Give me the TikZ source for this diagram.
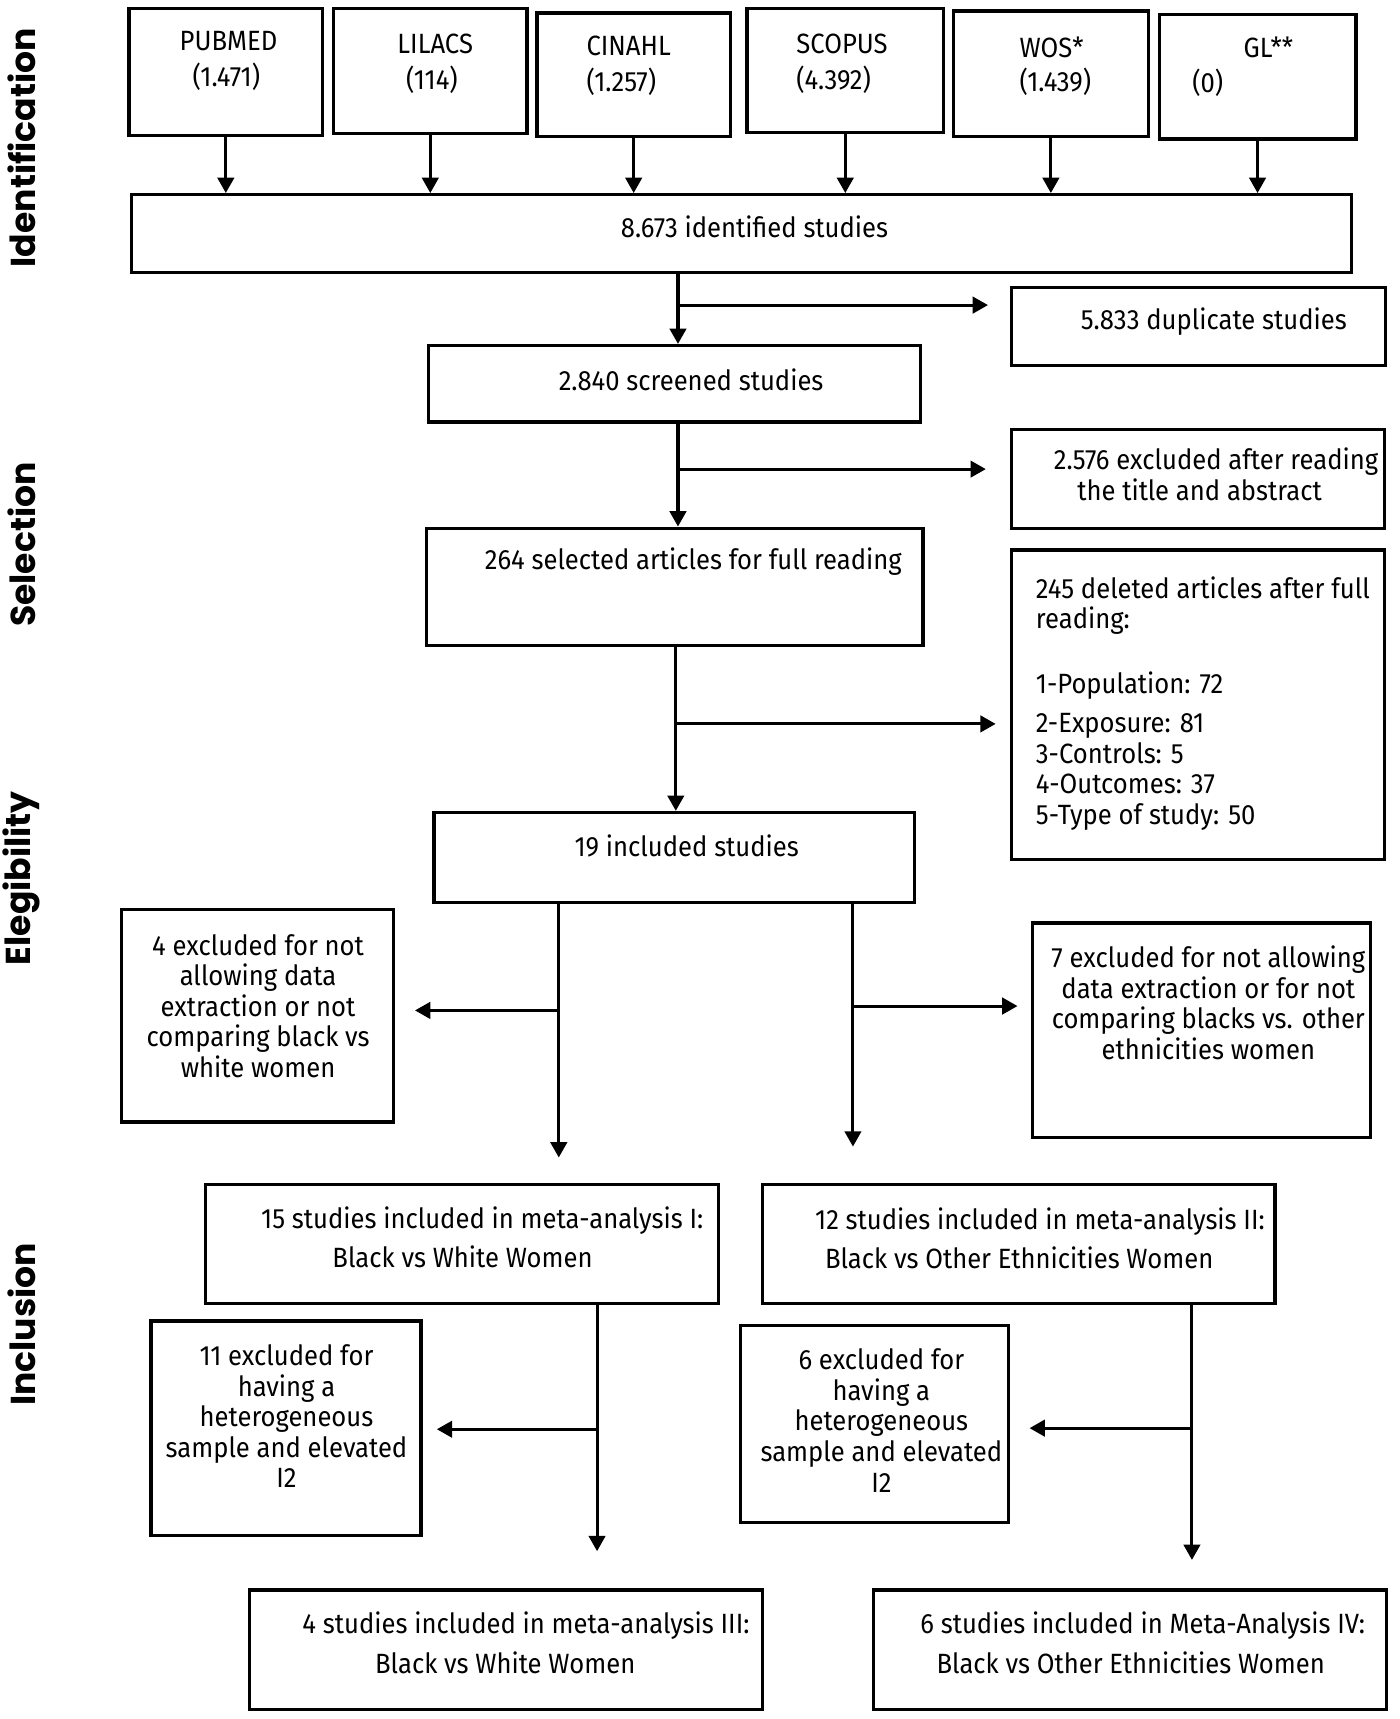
\documentclass[tikz,border=0pt]{standalone}
\usepackage{fontspec}
\setmainfont[FakeStretch=0.92]{Fira Sans}
\newfontfamily\sidefont{Poppins}
\usetikzlibrary{arrows.meta}
\tikzset{
  box/.style={draw, line width=1.7pt, inner sep=0pt, rectangle},
  txt/.style={inner sep=0pt, font=\fontsize{14.5}{15.9}\selectfont},
  side/.style={inner sep=0pt, rotate=90, font=\sidefont\bfseries\fontsize{18}{20}\selectfont},
  arr/.style={line width=1.6pt, -{Triangle[length=0.28cm, width=0.3cm]}}
}
% box from its corners, in pixels of the page
\newcommand{\pbox}[5]{\node[box, minimum width={(#4-#2)*0.02cm}, minimum height={(#5-#3)*0.02cm}] (#1) at ({(#2+#4)/2},{(#3+#5)/2}) {};}
\begin{document}
\begin{tikzpicture}[x=0.02cm, y=-0.02cm]
\useasboundingbox (0,0) rectangle (1280,1572);
% phases
\node[side] (ph1) at (20,135) {Identification};
\node[side] (ph2) at (20,498) {Selection};
\node[side] (ph3) at (20,803) {Elegibility};
\node[side] (ph4) at (20,1211) {Inclusion};
% sources
\pbox{pubmed}{118}{8}{295}{124}
\pbox{lilacs}{305}{8}{482}{122}
\pbox{cinahl}{491}{12}{668}{125}
\pbox{scopus}{683}{8}{863}{121}
\pbox{wos}{872}{10}{1050}{125}
\pbox{gl}{1060}{13}{1240}{127}
\node[txt] (pubmedA) at (209,38) {PUBMED};
\node[txt] (pubmedB) at (207,70) {(1.471)};
\node[txt] (lilacsA) at (398,40) {LILACS};
\node[txt] (lilacsB) at (395,73) {(114)};
\node[txt, anchor=west] (cinahlA) at (536,42) {CINAHL};
\node[txt, anchor=west] (cinahlB) at (536,75) {(1.257)};
\node[txt, anchor=west] (scopusA) at (728,40) {SCOPUS};
\node[txt, anchor=west] (scopusB) at (728,73) {(4.392)};
\node[txt, anchor=west] (wosA) at (932,43) {WOS*};
\node[txt, anchor=west] (wosB) at (932,75) {(1.439)};
\node[txt] (glA) at (1160,43) {GL**};
\node[txt, anchor=west] (glB) at (1090,76) {(0)};
% flow boxes
\pbox{ident}{120}{178}{1236}{249}
\pbox{dup}{925}{263}{1267}{334}
\pbox{screen}{392}{316}{842}{386}
\pbox{excl}{925}{393}{1266}{483}
\pbox{sel}{390}{483}{844}{590}
\pbox{del}{925}{503}{1266}{786}
\pbox{incl}{397}{743}{836}{825}
\pbox{exL}{111}{832}{360}{1026}
\pbox{exR}{944}{844}{1253}{1040}
\pbox{metaI}{188}{1083}{657}{1192}
\pbox{metaII}{697}{1083}{1166}{1192}
\pbox{hetL}{138}{1208}{385}{1404}
\pbox{hetR}{677}{1212}{922}{1392}
\pbox{metaIII}{228}{1454}{697}{1563}
\pbox{metaIV}{799}{1454}{1268}{1563}
% texts
\node[txt] (identT) at (690,207) {8.673 identified studies};
\node[txt] (dupT) at (1110,294) {5.833 duplicate studies};
\node[txt] (screenT) at (632,347) {2.840 screened studies};
\node[txt] (exclA) at (1112,422) {2.576 excluded after reading};
\node[txt] (exclB) at (1097,448) {the title and abstract};
\node[txt] (selT) at (634,514) {264 selected articles for full reading};
\node[txt, anchor=north west, align=left] (delT) at (947,527) {245 deleted articles after full\\reading:\\[17.6pt]
  1-Population: 72\\[4.5pt]2-Exposure: 81\\3-Controls: 5\\4-Outcomes: 37\\5-Type of study: 50};
\node[txt] (inclT) at (628,774) {19 included studies};
\node[txt, align=center] (exLT) at (236,920) {4 excluded for not\\allowing data\\extraction or not\\comparing black vs\\white women};
\node[txt, align=center] (exRT) at (1105,917) {7 excluded for not allowing\\data extraction or for not\\comparing blacks vs. other\\ethnicities women};
\node[txt] (metaIA) at (441,1116) {15 studies included in meta-analysis I:};
\node[txt] (metaIB) at (423,1149) {Black vs White Women};
\node[txt] (metaIIA) at (951,1117) {12 studies included in meta-analysis II:};
\node[txt] (metaIIB) at (932,1150) {Black vs Other Ethnicities Women};
\node[txt, align=center] (hetLT) at (262,1295) {11 excluded for\\having a\\heterogeneous\\sample and elevated\\I2};
\node[txt, align=center] (hetRT) at (806,1299) {6 excluded for\\having a\\heterogeneous\\sample and elevated\\I2};
\node[txt] (metaIIIA) at (481,1487) {4 studies included in meta-analysis III:};
\node[txt] (metaIIIB) at (462,1521) {Black vs White Women};
\node[txt] (metaIVA) at (1045,1487) {6 studies included in Meta-Analysis IV:};
\node[txt] (metaIVB) at (1034,1521) {Black vs Other Ethnicities Women};
% arrows into the pool
\draw[arr] (pubmed.south) -- (pubmed.south |- ident.north);
\draw[arr] (lilacs.south) -- (lilacs.south |- ident.north);
\draw[arr] (cinahl.south) -- (cinahl.south |- ident.north);
\draw[arr] (scopus.south) -- (scopus.south |- ident.north);
\draw[arr] (wos.south) -- (wos.south |- ident.north);
\draw[arr] (gl.south) -- (gl.south |- ident.north);
% junctions
\coordinate (j1) at (620,279);
\coordinate (j2) at (620,429);
\coordinate (j3) at (618,662);
\coordinate (jL) at (511,924);
\coordinate (jR) at (780,920);
\coordinate (jL2) at (546,1307);
\coordinate (jR2) at (1090,1306);
\draw[arr] (ident.south -| j1) -- (screen.north -| j1);
\draw[arr, shorten >=0.4cm] (j1) -- (j1 -| dup.west);
\draw[arr] (screen.south -| j2) -- (sel.north -| j2);
\draw[arr, shorten >=0.44cm] (j2) -- (j2 -| excl.west);
\draw[arr] (sel.south -| j3) -- (incl.north -| j3);
\draw[arr, shorten >=0.26cm] (j3) -- (j3 -| del.west);
\draw[arr, shorten >=0.46cm] (incl.south -| jL) -- (metaI.north -| jL);
\draw[arr, shorten >=0.36cm] (jL) -- (jL -| exL.east);
\draw[arr, shorten >=0.66cm] (incl.south -| jR) -- (metaII.north -| jR);
\draw[arr, shorten >=0.24cm] (jR) -- (jR -| exR.west);
\draw[arr, shorten >=0.68cm] (metaI.south -| jL2) -- (metaIII.north -| jL2);
\draw[arr, shorten >=0.26cm] (jL2) -- (jL2 -| hetL.east);
\draw[arr, shorten >=0.52cm] (metaII.south -| jR2) -- (metaIV.north -| jR2);
\draw[arr, shorten >=0.36cm] (jR2) -- (jR2 -| hetR.east);
\end{tikzpicture}
\end{document}
